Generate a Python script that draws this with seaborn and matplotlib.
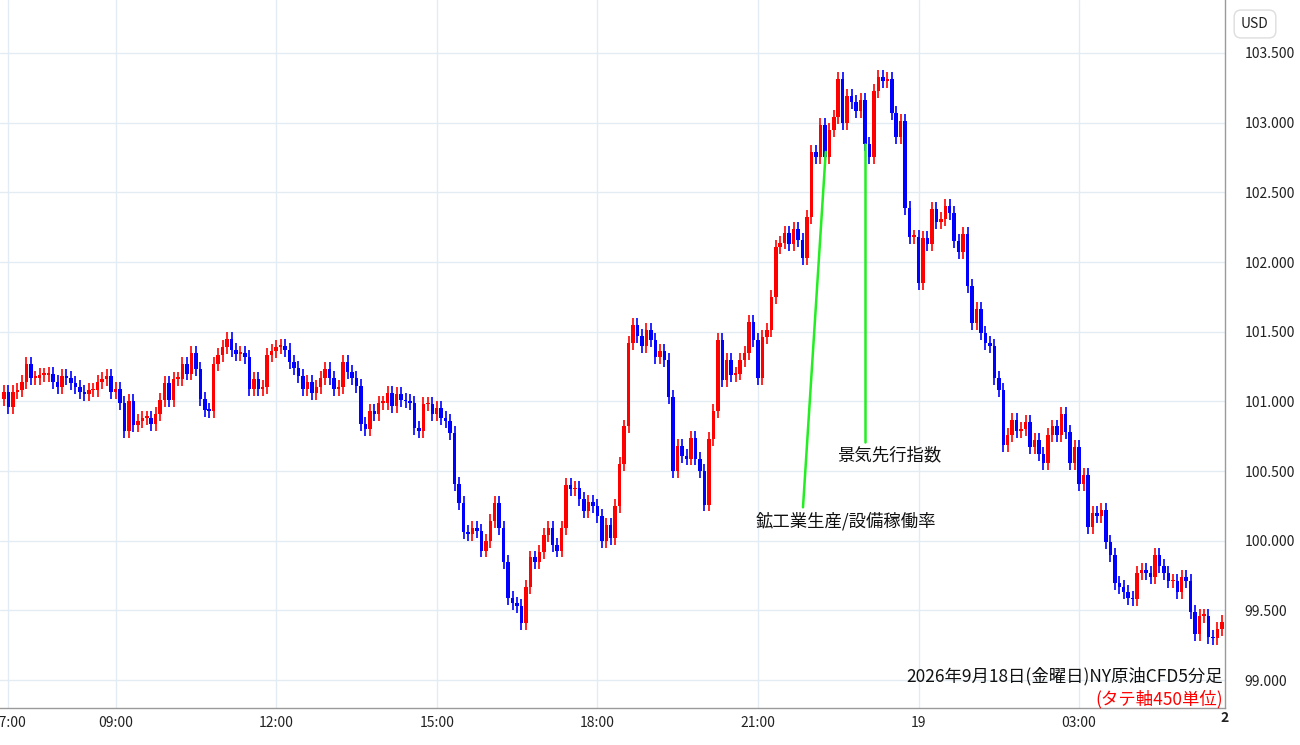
import numpy as np
import pandas as pd
import matplotlib
matplotlib.use("Agg")
import matplotlib.pyplot as plt
import seaborn as sns

close_a = [101.07,100.96,101.07,101.08,101.14,101.27,101.17,101.17,101.19,101.19,
           101.20,101.14,101.10,101.18,101.17,101.13,101.10,101.07,101.05,101.08,
           101.08,101.14,101.16,101.18,101.07,101.09,100.99,100.79,101.00,100.83,
           100.86,100.88,100.88,100.84,100.91,101.01,101.13,101.01,101.16,101.16,
           101.27,101.20,101.35,101.23,101.02,100.94,100.93,101.27,101.33,101.39,
           101.45,101.37,101.34,101.35,101.32,101.09,101.16,101.09,101.10,101.33,
           101.36,101.39,101.40,101.37,101.28,101.24,101.18,101.09,101.14,101.06,
           101.10,101.17,101.23,101.17,101.09,101.10,101.28,101.21,101.17,101.11,
           100.84,100.80,100.93,100.91,100.99,100.99,101.06,100.97,101.05,101.01,
           101.00,100.99,100.81,100.79,100.98,100.98,100.91,100.95,100.88,100.86,100.77]
close_b = [100.41,100.27,100.06,100.05,100.09,100.07,99.93,100.00,100.14,100.27,
           100.09,99.85,99.59,99.55,99.53,99.41,99.67,99.88,99.85,99.92,
           100.04,100.09,99.97,99.93,100.09,100.40,100.37,100.38,100.30,100.21,
           100.28,100.25,100.18,100.00,100.11,100.02,100.25,100.55,100.82,101.42,
           101.55,101.47,101.40,101.51,101.44,101.32,101.36,101.30,101.03,100.50,
           100.68,100.61,100.59,100.74,100.59,100.50,100.26,100.73,100.93,101.44,
           101.15,101.30,101.19,101.20,101.30,101.35,101.57,101.44,101.17,101.46,101.51]
close_c = [101.75,102.11,102.14,102.21,102.13,102.24,102.16,102.03,102.32,102.79,102.75,
           102.98,102.75,102.95,103.04,103.31,103.00,103.19,103.15,103.08,103.16,
           102.85,102.75,103.23,103.33,103.30,103.31,103.07,102.90,103.01,102.39,
           102.18,102.18,101.85,102.17,102.13,102.38,102.29,102.31,102.40,102.35,
           102.15,102.07,102.20]
close_d = [101.83,101.56,101.66,101.49,101.42,101.40,101.17,101.08,100.69,100.76,
           100.87,100.79,100.80,100.85,100.67,100.72,100.62,100.56,100.76,100.82,
           100.76,100.91,100.78,100.56,100.67,100.41,100.47,100.10,100.20,100.18,
           100.22,99.99,99.90,99.70,99.67,99.63,99.59,99.58,99.77,99.79,
           99.77,99.74,99.90,99.82,99.77,99.71,99.71,99.63,99.74,99.71,
           99.49,99.33,99.46,99.46,99.31,99.30,99.37,99.42]
first_open = 101.02
tick_labels = ["07:00", "09:00", "12:00", "15:00", "18:00", "21:00", "19", "03:00"]
tick_hours = [0, 2, 5, 8, 11, 14, 17, 20]   # hours after 07:00
y_ticks = [99.0, 99.5, 100.0, 100.5, 101.0, 101.5, 102.0, 102.5, 103.0, 103.5]

closes = np.array(close_a + close_b + close_c + close_d)
opens = np.concatenate([[first_open], closes[:-1]])
df = pd.DataFrame({"i": np.arange(len(closes)), "open": opens, "close": closes})
df["high"] = df[["open", "close"]].max(axis=1) + 0.05
df["low"] = df[["open", "close"]].min(axis=1) - 0.05
df["up"] = df["close"] >= df["open"]

sns.set_theme(style="white")
plt.rcParams['font.family'] = ['Noto Sans CJK JP', 'DejaVu Sans']

fig = plt.figure(figsize=(13, 7.45), dpi=100)
ax = fig.add_axes([0, 1 - 708/745, 1225/1300, 708/745])

RED, BLUE = "#ff0000", "#0000ff"
colors = np.where(df["up"], RED, BLUE)
ax.vlines(df["i"], df["low"], df["high"], colors=colors, lw=1.2, zorder=3)
bottoms = df[["open", "close"]].min(axis=1)
heights = (df["close"] - df["open"]).abs().clip(lower=0.012)
ax.bar(df["i"], heights, bottom=bottoms, width=0.78, color=colors, zorder=4, linewidth=0)

n = len(closes)
ax.set_xlim(-0.9, n - 1 + 0.7)
ax.set_ylim(98.80, 103.88)

xt = [1.0 + 12 * h for h in tick_hours]
ax.set_xticks(xt)
ax.set_xticklabels(tick_labels, fontsize=10, color="#222222")
ax.set_yticks(y_ticks)
ax.set_yticklabels([f"{v:.3f}" for v in y_ticks], fontsize=10, color="#222222")
ax.yaxis.tick_right()
ax.tick_params(axis="y", length=0, pad=14)
ax.tick_params(axis="x", length=0, pad=6)
ax.grid(True, color="#e3ecf3", lw=1, zorder=0)
for s in ["top", "left"]:
    ax.spines[s].set_visible(False)
for s in ["bottom", "right"]:
    ax.spines[s].set_color("#9a9a9a")
    ax.spines[s].set_linewidth(1)
ax.text(n - 1 + 0.7, 98.80 - 0.02, "2", ha="center", va="top", fontsize=10,
        fontweight="bold", color="#222222", clip_on=False)

# annotations
GREEN = "#22ee22"
ax.plot([179.1, 184.2], [100.24, 102.79], color=GREEN, lw=1.8, zorder=5)
ax.plot([193.0, 193.0], [100.71, 102.85], color=GREEN, lw=1.8, zorder=5)
ax.text(188.7, 100.14, "鉱工業生産/設備稼働率", ha="center", va="center", fontsize=12.5, color="#111111")
ax.text(198.4, 100.61, "景気先行指数", ha="center", va="center", fontsize=12.5, color="#111111")

ax.text(0.998, 0.045, "2026年9月18日(金曜日)NY原油CFD5分足", transform=ax.transAxes,
        ha="right", va="center", fontsize=12.5, color="#111111")
ax.text(0.998, 0.013, "(タテ軸450単位)", transform=ax.transAxes,
        ha="right", va="center", fontsize=12.5, color=RED)

fig.text(1255/1300, 1 - 24/745, "USD", ha="center", va="center", fontsize=10, color="#222222",
         bbox=dict(boxstyle="round,pad=0.5", fc="white", ec="#dddddd"))

fig.savefig("out.png", dpi=100)
